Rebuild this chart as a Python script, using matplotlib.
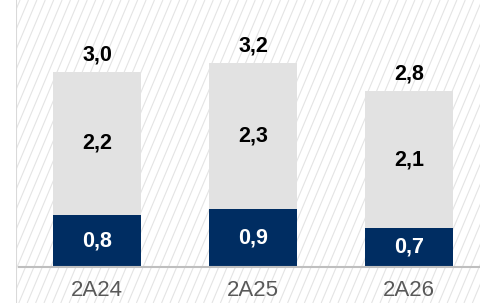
import numpy as np
import matplotlib
matplotlib.use("Agg")
import matplotlib.pyplot as plt
from matplotlib.collections import LineCollection

# data (bar heights as drawn, labels as printed)
years = ["2A24", "2A25", "2A26"]
base = [0.8, 0.89, 0.6]
upper = [2.2, 2.25, 2.1]
base_lbl = ["0,8", "0,9", "0,7"]
upper_lbl = ["2,2", "2,3", "2,1"]
total_lbl = ["3,0", "3,2", "2,8"]

navy = "#002D62"
concrete = "#E2E2E2"

plt.rcParams["font.family"] = ["Liberation Sans", "DejaVu Sans"]

fig = plt.figure(figsize=(4.81, 3.03), dpi=100)

# hatched backdrop
bg = fig.add_axes([16 / 481, 0, 1 - 16 / 481, 1])
bg.set_xlim(0, 465)
bg.set_ylim(0, 303)
segs = []
for x0 in np.arange(-140, 470, 8.4):
    segs.append([(x0, 0), (x0 + 303 * 0.42, 303)])
bg.add_collection(LineCollection(segs, colors="#E4E4E4", linewidths=0.8))
bg.axvline(0.5, color="#D9D9D9", lw=1.5)
bg.axis("off")

ax = fig.add_axes([19 / 481, 36 / 303, 462 / 481, 267 / 303])
ax.patch.set_alpha(0)
x = np.arange(len(years))
w = 0.56
tops = [b + u for b, u in zip(base, upper)]
ax.bar(x, base, w, color=navy, zorder=2)
ax.bar(x, upper, w, bottom=base, color=concrete, zorder=2)

lbl = dict(ha="center", va="center", fontsize=15.5, fontweight="bold", zorder=3)
for i in range(len(years)):
    ax.text(x[i], base[i] / 2, base_lbl[i], color="white", **lbl)
    ax.text(x[i], base[i] + upper[i] / 2, upper_lbl[i], color="black", **lbl)
    ax.text(x[i], tops[i] + 0.26, total_lbl[i], color="black", **lbl)

ax.set_xlim(-0.5, 2.46)
ax.set_ylim(0, 4.1)
ax.set_xticks(x)
ax.set_xticklabels(years, fontsize=16, color="#595959")
ax.tick_params(axis="x", length=0, pad=9)
ax.set_yticks([])
for s in ["top", "right", "left"]:
    ax.spines[s].set_visible(False)
ax.spines["bottom"].set_color("#BFBFBF")
ax.spines["bottom"].set_linewidth(1.5)

fig.savefig("out.png", dpi=100)
